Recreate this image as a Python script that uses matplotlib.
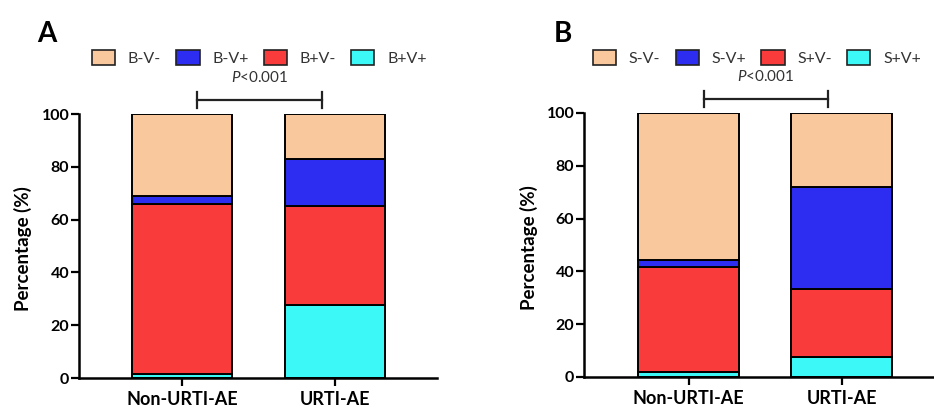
import matplotlib
matplotlib.use("Agg")
import matplotlib.pyplot as plt
from matplotlib.patches import Patch
import numpy as np

plt.rcParams['font.family'] = ['Lato', 'DejaVu Sans']
plt.rcParams['mathtext.fontset'] = 'custom'
plt.rcParams['mathtext.it'] = 'Lato:italic'
plt.rcParams['mathtext.rm'] = 'Lato'

groups = ["Non-URTI-AE", "URTI-AE"]

# Panel A
labels_A = ["B-V-", "B-V+", "B+V-", "B+V+"]
A_BmVm = [31.0, 17.0]
A_BmVp = [3.0, 18.0]
A_BpVm = [64.5, 37.5]
A_BpVp = [1.5, 27.5]

# Panel B
labels_B = ["S-V-", "S-V+", "S+V-", "S+V+"]
B_SmVm = [55.5, 28.0]
B_SmVp = [3.0, 38.7]
B_SpVm = [39.5, 25.8]
B_SpVp = [2.0, 7.5]

p_text = "$P$<0.001"

colors = ["#F9C89C", "#2D2DF2", "#F93B3B", "#3CF8F6"]  # -/-, -/+, +/-, +/+

W, H = 934, 413
fig = plt.figure(figsize=(W / 100, H / 100), dpi=100)


def px_axes(x0, x1, ytop, ybot):
    return fig.add_axes([x0 / W, (H - ybot) / H, (x1 - x0) / W, (ybot - ytop) / H])


def draw_panel(ax, series, labels, xlim, letter, letter_x, legend_x):
    x = np.arange(len(groups))
    order = [3, 2, 1, 0]
    bottom = np.zeros(len(groups))
    for i in order:
        vals = np.array(series[i])
        ax.bar(x, vals, bottom=bottom, width=0.655, color=colors[i],
               edgecolor="black", linewidth=1.4, zorder=2)
        bottom += vals
    ax.set_xlim(*xlim)
    ax.set_ylim(0, 100)
    ax.set_yticks([0, 20, 40, 60, 80, 100])
    ax.set_xticks(x)
    ax.set_xticklabels(groups, fontsize=13, fontweight="bold")
    for lab in ax.get_yticklabels():
        lab.set_fontweight("bold")
        lab.set_fontsize(11.5)
    ax.tick_params(axis="both", direction="out", length=5.5, width=1.6, color="black")
    ax.tick_params(axis="x", pad=4)
    ax.tick_params(axis="y", pad=1.5)
    for s in ["top", "right"]:
        ax.spines[s].set_visible(False)
    ax.spines["left"].set_linewidth(1.8)
    ax.spines["bottom"].set_linewidth(1.8)
    ax.spines["left"].set_bounds(0, 100)
    ax.set_ylabel("Percentage (%)", fontsize=13.5, fontweight="bold", va="center")
    ax.yaxis.set_label_coords(-0.157, 0.49)

    bx0, bx1 = 0.1, 0.915
    ax.plot([bx0, bx1], [105.3, 105.3], color="#222222", lw=1.6, clip_on=False)
    for bx in (bx0, bx1):
        ax.plot([bx, bx], [102.3, 108.4], color="#222222", lw=1.6, clip_on=False)
    ax.text((bx0 + bx1) / 2, 110.8, p_text, ha="center", va="bottom", fontsize=11,
            color="#333333", clip_on=False)

    fig.text(letter_x / W, 1 - 42 / H, letter, fontsize=20, fontweight="bold",
             ha="left", va="baseline")

    handles = [Patch(facecolor=colors[i], edgecolor="#222222", linewidth=1.2) for i in range(4)]
    fig.legend(handles, labels, loc="center left", bbox_to_anchor=(legend_x / W, 1 - 58 / H),
               ncol=4, frameon=False, fontsize=11.5, labelcolor="#333333",
               handlelength=1.45, handleheight=1.05, handletextpad=0.8,
               columnspacing=0.95, borderpad=0, borderaxespad=0)


axA = px_axes(79, 437, 114, 378)
draw_panel(axA, [A_BmVm, A_BmVp, A_BpVm, A_BpVp], labels_A,
           ((79 - 182) / 153, (437 - 182) / 153), "A", 37, 92)

axB = px_axes(584, 934, 113, 377)
draw_panel(axB, [B_SmVm, B_SmVp, B_SpVm, B_SpVp], labels_B,
           ((584 - 688.5) / 153, (934 - 688.5) / 153), "B", 554, 593)

fig.savefig("out.png", dpi=100)
